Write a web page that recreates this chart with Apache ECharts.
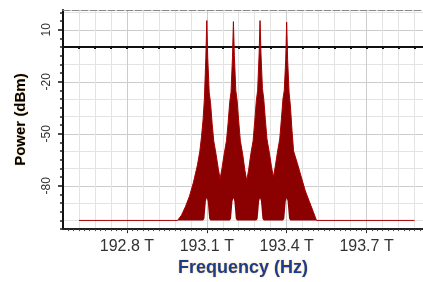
<!DOCTYPE html>
<html><head><meta charset="utf-8">
<script src="https://cdn.jsdelivr.net/npm/echarts@6/dist/echarts.min.js"></script>
<style>html,body{margin:0;padding:0;background:#fff}#c{width:423px;height:282px}</style>
</head><body><div id="c"></div>
<script>
// ---- data (frequency in THz, power in dBm) ----
const freqTHz = [192.62,192.99,193.005,193.02,193.035,193.05,193.065,193.074,193.08,193.086,193.091,193.0965,193.1,193.1035,193.109,193.114,193.12,193.126,193.135,193.143,193.15,193.157,193.165,193.174,193.18,193.186,193.191,193.1965,193.2,193.2035,193.209,193.214,193.22,193.226,193.235,193.243,193.25,193.257,193.265,193.274,193.28,193.286,193.291,193.2965,193.3,193.3035,193.309,193.314,193.32,193.326,193.335,193.343,193.35,193.357,193.365,193.374,193.38,193.386,193.391,193.3965,193.4,193.4035,193.409,193.414,193.42,193.426,193.44,193.455,193.47,193.485,193.5,193.512,193.88];
const upperDbm = [-100,-100,-97,-92,-86,-78,-68,-60,-52,-42,-30,-6,15.3,-6,-26,-32,-44,-54,-62,-70,-76,-70,-62,-54,-44,-32,-26,-6,14.7,-5,-25,-31,-43,-54,-62,-71,-77,-71,-62,-54,-43,-31,-25,-4,15.3,-4,-24,-30,-42,-53,-61,-69,-75,-69,-61,-53,-42,-30,-25,-7,14.4,-7,-26,-34,-48,-60,-67,-75,-83,-89,-95,-100,-100];
const lowerDbm = [-100,-100,-100,-100,-100,-100,-100,-100,-100,-100,-99,-89,-87,-89,-99,-100,-100,-100,-100,-100,-100,-100,-100,-100,-100,-100,-99,-89,-87,-89,-99,-100,-100,-100,-100,-100,-100,-100,-100,-100,-100,-100,-99,-89,-87,-89,-99,-100,-100,-100,-100,-100,-100,-100,-100,-100,-100,-100,-99,-89,-87,-89,-99,-100,-100,-100,-100,-100,-100,-100,-100,-100,-100];
const xTickLabels = [192.8, 193.1, 193.4, 193.7];
const yTickLabels = [-80, -50, -20, 10];

const X_MIN = 192.56, X_MAX = 193.912, Y_MIN = -105, Y_MAX = 21.4;

function steps(a, b, s) {
  const out = []; const n = Math.round((b - a) / s);
  for (let k = 0; k <= n; k++) out.push(Math.round((a + k * s) * 1000) / 1000);
  return out;
}
const near = (arr, v) => arr.some(m => Math.abs(m - v) < 1e-6);
const xGrid = steps(192.62, 193.88, 0.06).filter(v => !near(xTickLabels, v));
const xMinor = steps(192.58, 193.9, 0.02);
const yMinor = steps(-105, 20, 5).filter(v => !near(yTickLabels, v));
const yGrid = steps(-100, 20, 10).filter(v => !near(yTickLabels, v));

const FONT = "'Liberation Sans', Arial, sans-serif";
const base = { min: X_MIN, max: X_MAX, type: 'value' };
const ybase = { min: Y_MIN, max: Y_MAX, type: 'value', position: 'left' };

const chart = echarts.init(document.getElementById('c'), null, { renderer: 'canvas' });
chart.setOption({
  animation: false,
  backgroundColor: '#fff',
  grid: { left: 63, right: 0, top: 10, bottom: 49, containLabel: false },
  xAxis: [
    Object.assign({}, base, {
      position: 'bottom',
      name: 'Frequency (Hz)', nameLocation: 'middle', nameGap: 27,
      nameTextStyle: { fontFamily: FONT, fontSize: 18, fontWeight: 'bold', color: '#1b3d8f',
        textShadowColor: 'rgba(235,170,40,0.7)', textShadowBlur: 2 },
      axisLine: { onZero: false, lineStyle: { color: '#222', width: 2 } },
      axisTick: { customValues: xTickLabels, length: 4, lineStyle: { color: '#222' } },
      axisLabel: { customValues: xTickLabels, formatter: v => v.toFixed(1) + ' T',
        fontFamily: FONT, fontSize: 16, color: '#333', margin: 9 },
      splitLine: { show: true, lineStyle: { color: '#cccccc', width: 1 } }
    }),
    Object.assign({}, base, {
      position: 'bottom',
      axisLine: { onZero: true, lineStyle: { color: '#111', width: 2 } },
      axisTick: { customValues: steps(192.62, 193.88, 0.06), length: 2, lineStyle: { color: '#111', width: 2 } },
      axisLabel: { show: false },
      splitLine: { show: false }
    }),
    Object.assign({}, base, {
      position: 'top',
      axisLine: { onZero: false, lineStyle: { color: '#8a8a8a', width: 1, type: [7, 2] } },
      axisTick: { show: false }, axisLabel: { show: false }, splitLine: { show: false }
    }),
    Object.assign({}, base, {
      position: 'bottom',
      axisLine: { show: false, onZero: false },
      axisTick: { customValues: xMinor, length: 2, lineStyle: { color: '#444' } },
      axisLabel: { show: false }, splitLine: { show: false }
    }),
    Object.assign({}, base, {
      position: 'bottom',
      axisLine: { show: false, onZero: false },
      axisTick: { show: false, customValues: xGrid },
      axisLabel: { show: false },
      splitLine: { show: true, lineStyle: { color: '#e3e3e3', width: 1 } }
    })
  ],
  yAxis: [
    Object.assign({}, ybase, {
      name: 'Power (dBm)', nameLocation: 'middle', nameGap: 35,
      nameTextStyle: { fontFamily: FONT, fontSize: 15, fontWeight: 'bold', color: '#000',
        textShadowColor: 'rgba(240,160,40,0.6)', textShadowBlur: 1.5 },
      axisLine: { onZero: false, lineStyle: { color: '#111', width: 2 } },
      axisTick: { customValues: yTickLabels, length: 5, lineStyle: { color: '#111', width: 1.5 } },
      axisLabel: { customValues: yTickLabels, rotate: 90, fontFamily: FONT, fontSize: 12, color: '#333', margin: 10 },
      splitLine: { show: true, lineStyle: { color: '#cccccc', width: 1 } }
    }),
    Object.assign({}, ybase, {
      axisLine: { show: false, onZero: false },
      axisTick: { customValues: yMinor, length: 3, lineStyle: { color: '#222', width: 1.5 } },
      axisLabel: { show: false }, splitLine: { show: false }
    }),
    Object.assign({}, ybase, {
      axisLine: { show: false, onZero: false },
      axisTick: { show: false, customValues: yGrid },
      axisLabel: { show: false },
      splitLine: { show: true, lineStyle: { color: '#e3e3e3', width: 1 } }
    })
  ],
  series: [
    {
      type: 'custom', name: 'band', silent: true, clip: true, z: 2,
      data: [[freqTHz[0], upperDbm[0]]],
      encode: { x: 0, y: 1 },
      renderItem: function (params, api) {
        const pts = [];
        for (let i = 0; i < freqTHz.length; i++) pts.push(api.coord([freqTHz[i], upperDbm[i]]));
        for (let i = freqTHz.length - 1; i >= 0; i--) pts.push(api.coord([freqTHz[i], lowerDbm[i]]));
        return { type: 'polygon', shape: { points: pts }, style: { fill: '#8b0000' } };
      }
    },
    {
      type: 'line', name: 'spectrum', silent: true, z: 3,
      data: freqTHz.map((f, i) => [f, upperDbm[i]]),
      symbol: 'none',
      lineStyle: { color: '#a80000', width: 1 }
    }
  ]
});
</script>
</body></html>
